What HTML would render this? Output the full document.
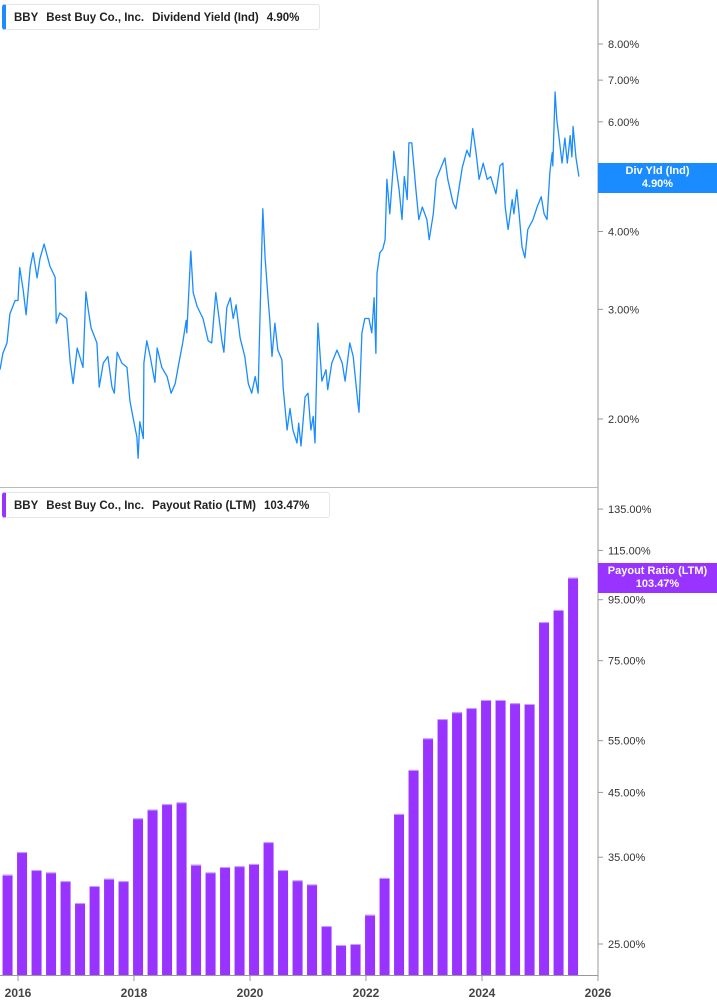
<!DOCTYPE html>
<html><head><meta charset="utf-8"><style>
body{margin:0;width:717px;height:1005px;background:#fff;font-family:"Liberation Sans",sans-serif;overflow:hidden;position:relative}
.hdr{position:absolute;background:#fff;border:1px solid #e6e6e6;border-radius:3px;font-size:11.5px;font-weight:bold;color:#222;height:26px;line-height:26px;padding-left:8px;box-sizing:border-box;white-space:nowrap;overflow:hidden}
.hdr span{margin-right:8px}
.tag{position:absolute;left:598px;width:119px;height:30px;color:#fff;font-size:11px;font-weight:bold;text-align:center;line-height:13px;padding-top:2px;box-sizing:border-box}
</style></head><body>
<svg id="chart" width="717" height="1005" style="position:absolute;left:0;top:0"></svg>
<div class="hdr" style="left:2px;top:4px;width:318px;border-left:4px solid #1a8cff"><span>BBY</span><span>Best Buy Co., Inc.</span><span>Dividend Yield (Ind)</span><span>4.90%</span></div>
<div class="hdr" style="left:2px;top:492px;width:328px;border-left:4px solid #9933ff"><span>BBY</span><span>Best Buy Co., Inc.</span><span>Payout Ratio (LTM)</span><span>103.47%</span></div>
<div class="tag" style="top:163px;background:#1a8cff">Div Yld (Ind)<br>4.90%</div>
<div class="tag" style="top:563px;background:#9933ff">Payout Ratio (LTM)<br>103.47%</div>
<script>
const lineDates=[2015.69,2015.74,2015.81,2015.86,2015.95,2016.00,2016.03,2016.09,2016.14,2016.21,2016.26,2016.33,2016.38,2016.45,2016.55,2016.64,2016.66,2016.72,2016.84,2016.86,2016.90,2016.95,2017.02,2017.12,2017.17,2017.21,2017.26,2017.36,2017.40,2017.47,2017.55,2017.62,2017.66,2017.71,2017.79,2017.88,2017.93,2017.98,2018.05,2018.07,2018.10,2018.16,2018.17,2018.22,2018.28,2018.36,2018.40,2018.48,2018.57,2018.64,2018.71,2018.76,2018.84,2018.90,2018.91,2018.98,2019.02,2019.09,2019.19,2019.28,2019.34,2019.41,2019.52,2019.55,2019.60,2019.66,2019.71,2019.76,2019.83,2019.91,2019.97,2020.03,2020.09,2020.14,2020.17,2020.22,2020.26,2020.31,2020.34,2020.38,2020.43,2020.48,2020.55,2020.57,2020.64,2020.69,2020.74,2020.81,2020.84,2020.88,2020.95,2021.00,2021.05,2021.09,2021.12,2021.17,2021.24,2021.31,2021.34,2021.41,2021.50,2021.59,2021.64,2021.72,2021.78,2021.86,2021.88,2021.93,2021.98,2022.05,2022.10,2022.14,2022.17,2022.19,2022.24,2022.29,2022.33,2022.36,2022.41,2022.47,2022.48,2022.53,2022.57,2022.62,2022.66,2022.71,2022.74,2022.79,2022.86,2022.91,2022.97,2023.05,2023.09,2023.16,2023.21,2023.28,2023.36,2023.41,2023.50,2023.55,2023.60,2023.66,2023.74,2023.79,2023.84,2023.90,2023.95,2024.02,2024.09,2024.15,2024.24,2024.31,2024.36,2024.40,2024.45,2024.52,2024.55,2024.60,2024.64,2024.69,2024.74,2024.79,2024.88,2024.95,2025.02,2025.07,2025.12,2025.17,2025.21,2025.22,2025.26,2025.29,2025.33,2025.38,2025.43,2025.47,2025.52,2025.55,2025.57,2025.62,2025.67];
const lineYields=[2.4,2.55,2.65,2.95,3.1,3.1,3.5,3.22,2.94,3.5,3.7,3.37,3.62,3.82,3.52,3.38,2.85,2.96,2.9,2.75,2.46,2.28,2.6,2.42,3.2,3.0,2.8,2.65,2.25,2.46,2.52,2.25,2.2,2.56,2.46,2.42,2.14,2.02,1.87,1.73,1.98,1.86,2.46,2.67,2.52,2.29,2.6,2.42,2.34,2.2,2.28,2.42,2.65,2.88,2.75,3.72,3.19,3.03,2.9,2.67,2.65,3.19,2.65,2.56,3.02,3.13,2.9,3.05,2.7,2.52,2.28,2.2,2.34,2.2,2.88,4.35,3.63,3.13,2.9,2.52,2.85,2.58,2.49,2.25,1.92,2.08,1.92,1.83,1.97,1.81,2.17,2.2,1.92,2.02,1.83,2.85,2.3,2.4,2.23,2.46,2.58,2.46,2.3,2.65,2.52,2.12,2.05,2.75,2.9,2.9,2.75,3.13,2.55,3.43,3.7,3.75,3.88,4.85,4.27,5.1,5.38,4.98,4.67,4.18,4.9,4.5,5.55,5.55,4.67,4.18,4.38,4.18,3.88,4.27,4.85,5.03,5.25,4.85,4.45,4.35,4.67,5.07,5.4,5.27,5.85,5.33,4.85,5.15,4.85,4.9,4.6,5.1,5.15,4.38,4.03,4.5,4.27,4.67,4.27,3.78,3.63,4.03,4.18,4.38,4.55,4.27,4.18,4.98,5.35,5.1,6.7,6.05,5.65,5.15,5.65,5.15,5.7,5.27,5.9,5.25,4.9];
const barQuarters=['2015Q4','2016Q1','2016Q2','2016Q3','2016Q4','2017Q1','2017Q2','2017Q3','2017Q4','2018Q1','2018Q2','2018Q3','2018Q4','2019Q1','2019Q2','2019Q3','2019Q4','2020Q1','2020Q2','2020Q3','2020Q4','2021Q1','2021Q2','2021Q3','2021Q4','2022Q1','2022Q2','2022Q3','2022Q4','2023Q1','2023Q2','2023Q3','2023Q4','2024Q1','2024Q2','2024Q3','2024Q4','2025Q1','2025Q2','2025Q3'];
const barValues=[32.7,35.7,33.3,33.0,31.9,29.3,31.3,32.2,31.9,40.7,42.1,43.0,43.3,34.0,33.0,33.7,33.8,34.1,37.1,33.3,32.0,31.5,26.8,24.9,25.0,28.0,32.3,41.4,49.1,55.5,59.8,61.4,62.4,64.4,64.4,63.6,63.4,87.1,91.3,103.47];
const yieldTicks=[2,3,4,5,6,7,8];
const payoutTicks=[25,35,45,55,75,95,115,135];
const yearTicks=[2016,2018,2020,2022,2024,2026];

const NS='http://www.w3.org/2000/svg';
const svg=document.getElementById('chart');
function el(t,a,p){const e=document.createElementNS(NS,t);for(const k in a)e.setAttribute(k,a[k]);(p||svg).appendChild(e);return e;}
const xS=d=>18+(d-2016)*58;
const yTop=v=>419-Math.log(v/2)*270.5;
const yBot=v=>944-Math.log(v/25)*257.9;

let f=el('line',{x1:598,y1:0,x2:598,y2:975,stroke:'#999','stroke-width':1});


f=el('line',{x1:0,y1:487.5,x2:598,y2:487.5,stroke:'#bbb','stroke-width':1});


f=el('line',{x1:0,y1:975.5,x2:598,y2:975.5,stroke:'#999','stroke-width':1});



yieldTicks.forEach(v=>{
 const y=yTop(v);
 const tk=el('line',{x1:598,y1:y,x2:603,y2:y,stroke:'#999'});
 
 
 const t=el('text',{x:608,y:y+4,'font-size':11,fill:'#333'});
 t.textContent=v.toFixed(2)+'%';
 
 
});
payoutTicks.forEach(v=>{
 const y=yBot(v);
 const tk=el('line',{x1:598,y1:y,x2:603,y2:y,stroke:'#999'});
 
 
 const t=el('text',{x:608,y:y+4,'font-size':11,fill:'#333'});
 t.textContent=v.toFixed(2)+'%';
 
 
});
yearTicks.forEach(yr=>{
 const x=xS(yr);
 const tk=el('line',{x1:x,y1:975,x2:x,y2:981,stroke:'#999'});
 
 
 const t=el('text',{x:x,y:997,'font-size':12,'font-weight':'bold',fill:'#444','text-anchor':'middle'});
 t.textContent=yr;
 
 
});

let d='';
lineDates.forEach((dt,i)=>{d+=(i?'L':'M')+xS(dt).toFixed(1)+','+yTop(lineYields[i]).toFixed(1);});
const p=el('path',{d:d,fill:'none',stroke:'#1a8cff','stroke-width':1.3,'stroke-linejoin':'round'});



barQuarters.forEach((q,i)=>{
 const yr=+q.slice(0,4), qn=+q.slice(5);
 const dt=yr+(qn-1)*0.25+0.07;
 const x=xS(dt), top=yBot(barValues[i]);
 const r=el('rect',{x:x-5,y:top,width:10,height:975-top,fill:'#9933ff'});
 
 
 const e=el('rect',{x:x-5,y:top,width:10,height:1,fill:'#c9a0ff'});
 
 
});
</script>
</body></html>
